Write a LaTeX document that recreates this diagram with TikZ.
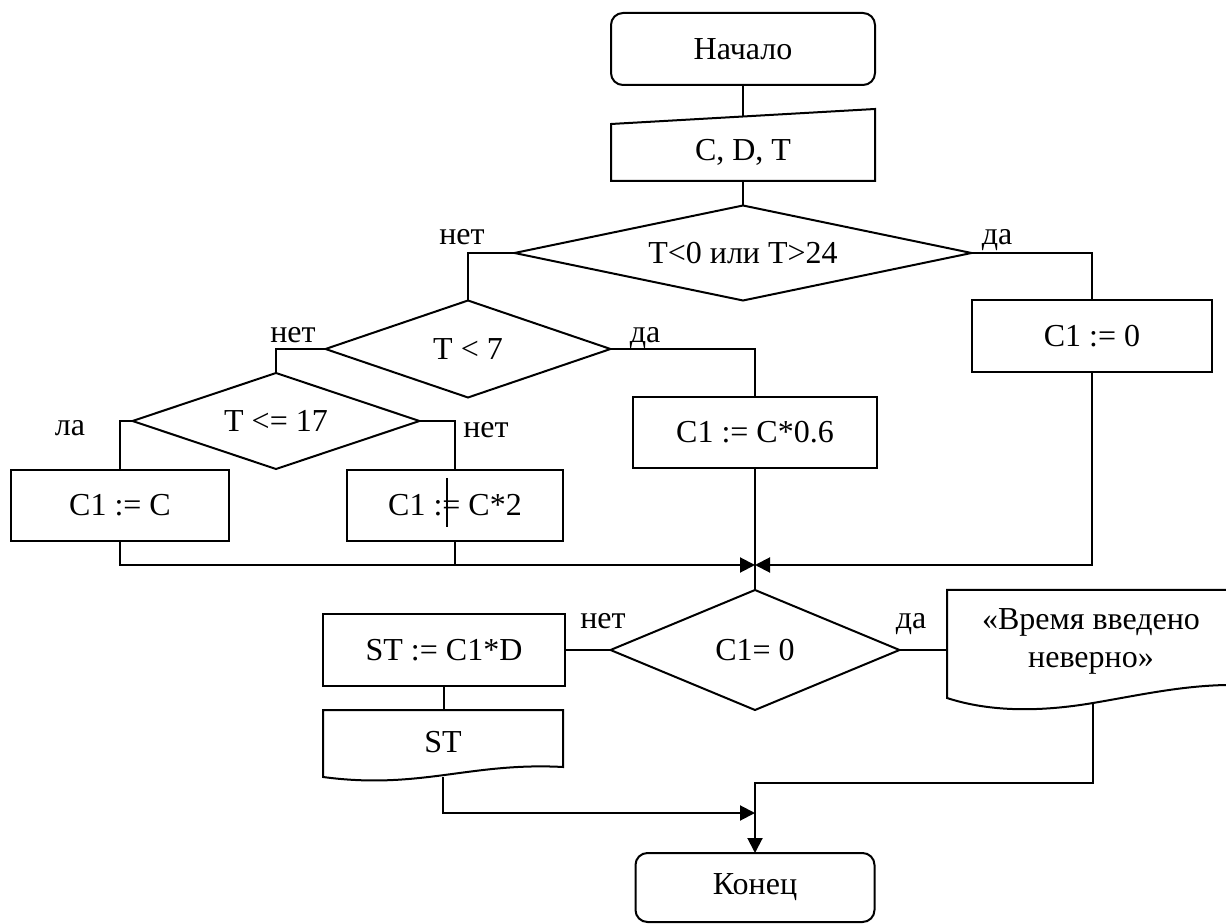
\documentclass[tikz,border=0pt]{standalone}
\usepackage{fontspec}
\setmainfont{Liberation Serif}
\usetikzlibrary{arrows.meta}
\begin{document}
\begin{tikzpicture}[x=0.5pt,y=-0.5pt, line width=1pt,
 every node/.style={font=\fontsize{16}{19}\selectfont, inner sep=0pt, outer sep=0pt},
 box/.style={draw, rectangle},
 term/.style={draw, rectangle, rounded corners=6pt},
 dec/.style={rectangle, append after command={
   \pgfextra{\draw (\tikzlastnode.north) -- (\tikzlastnode.east) -- (\tikzlastnode.south) -- (\tikzlastnode.west) -- cycle;}}},
 lbl/.style={anchor=base},
 arr/.style={-{Triangle[length=7.5pt,width=7.5pt]}}]
\useasboundingbox (0,0) rectangle (1226,924);

% nodes
\node[term, minimum width=132pt, minimum height=36pt] (start) at (743,49) {Начало};
\draw (611,124) -- (875,109) -- (875,181) -- (611,181) -- cycle;
\node (in) at (743,152) {C, D, T};
\coordinate (intop) at (743,116.5);
\coordinate (inbot) at (743,181);

\node[dec, minimum width=228.5pt, minimum height=47.5pt] (d1) at (743,253) {T<0 или T>24};
\node[box, minimum width=120pt, minimum height=36pt] (c10) at (1092,336) {C1 := 0};
\node[dec, minimum width=142.5pt, minimum height=48.5pt] (d2) at (468,349) {T < 7};
\node[box, minimum width=122pt, minimum height=35.5pt] (c106) at (755,432.5) {C1 := C*0.6};
\node[dec, minimum width=143.5pt, minimum height=48pt] (d3) at (276,421) {T <= 17};
\node[box, minimum width=109pt, minimum height=35.5pt] (c1c) at (120,505.5) {C1 := C};
\node[box, minimum width=108pt, minimum height=35.5pt] (c1c2) at (455,505.5) {C1 := C*2};
\draw[line width=0.8pt] (447,478) -- (447,527);
\coordinate (merge) at (755,565);
\node[dec, minimum width=144.5pt, minimum height=60pt] (d4) at (755,650) {C1= 0};
\node[box, minimum width=121pt, minimum height=35.5pt] (st) at (444,650) {ST := C1*D};

\draw (323,710) -- (563,710) -- (563,767) .. controls (470,762) and (420,790) .. (323,777) -- cycle;
\node (sto) at (443,742) {ST};
\coordinate (sttop) at (444,710);
\coordinate (stbot) at (443,777);

\draw (1226,590) -- (947,590) -- (947,698) .. controls (990,712) and (1040,712) .. (1093,703)
      .. controls (1140,695) and (1180,686) .. (1226,685);
\node[align=center] (msg) at (1091,641) {«Время введено\\неверно»};
\coordinate (msgL) at (947,650);
\coordinate (msgB) at (1093,703);

\node[term, minimum width=119.5pt, minimum height=34.5pt] (end) at (755,887.5) {Конец};

% labels
\node[lbl] (l1) at (462,245) {нет};
\node[lbl] (l2) at (997,245) {да};
\node[lbl] (l3) at (293,343) {нет};
\node[lbl] (l4) at (645,343) {да};
\node[lbl] (l5) at (70,436) {ла};
\node[lbl] (l6) at (486,438) {нет};
\node[lbl] (l7) at (603,628) {нет};
\node[lbl] (l8) at (911,628) {да};

% connectors
\draw (start.south) -- (intop);
\draw (inbot) -- (d1.north);
\draw (d1.west) -| (d2.north);
\draw (d1.east) -| (c10.north);
\draw (d2.east) -| (c106.north);
\draw (d2.west) -| (d3.north);
\draw (d3.west) -| (c1c.north);
\draw (d3.east) -| (c1c2.north);
\draw[arr] (c1c.south) |- (merge);
\draw (c1c2.south) -- (c1c2.south |- merge);
\draw[arr] (c10.south) |- (merge);
\draw (c106.south) -- (merge) -- (d4.north);
\draw (d4.west) -- (st.east);
\draw (st.south) -- (sttop);
\draw (d4.east) -- (msgL);
\coordinate (j1) at (755,813);
\coordinate (j2) at (755,783);
\draw[arr] (stbot) |- (j1);
\draw[arr] (msgB) |- (j2) -- (end.north);
\end{tikzpicture}
\end{document}
